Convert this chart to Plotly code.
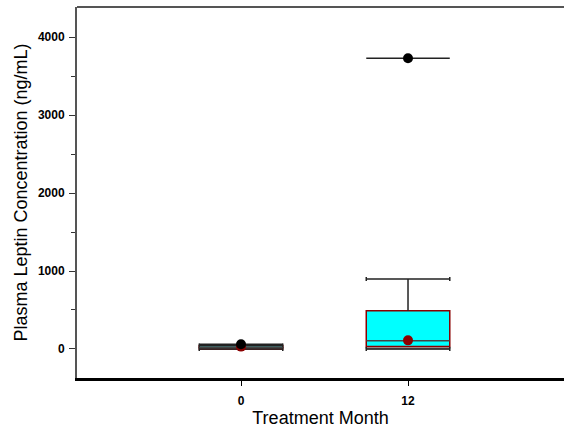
import plotly.graph_objects as go

# Data
months = ["0", "12"]
pos = [0, 1]
lower_fence = [0, 0]
q1 = [0, 30]
median = [20, 106]
q3 = [42, 491]
upper_fence = [45, 897]
mean_vals = [30, 110]
outlier_x = [0, 1]
outlier_y = [60, 3731]

half_w = 0.25
dark_red = "#8B0000"

fig = go.Figure()

# lower part of box (gray)
fig.add_trace(go.Bar(x=pos, base=lower_fence, y=[a - b for a, b in zip(q1, lower_fence)],
                     width=2 * half_w, marker=dict(color="#b4b4b4", line=dict(color="#555555", width=1)),
                     showlegend=False, hoverinfo="skip"))
# main box (cyan)
fig.add_trace(go.Bar(x=pos, base=q1, y=[a - b for a, b in zip(q3, q1)],
                     width=2 * half_w, marker=dict(color="#00FFFF", line=dict(color=dark_red, width=1.5)),
                     showlegend=False, hoverinfo="skip"))
# whiskers
for i in range(len(pos)):
    fig.add_trace(go.Scatter(x=[pos[i], pos[i]], y=[q3[i], upper_fence[i]], mode="lines",
                             line=dict(color="#222222", width=1.5), showlegend=False, hoverinfo="skip"))
# caps (upper and lower)
fig.add_trace(go.Scatter(x=pos + pos, y=upper_fence + lower_fence, mode="markers",
                         marker=dict(size=1, opacity=0),
                         error_x=dict(type="data", array=[half_w] * 4, color="#222222", thickness=1.5, width=2),
                         showlegend=False, hoverinfo="skip"))
# median lines
fig.add_trace(go.Scatter(x=pos, y=median, mode="markers", marker=dict(size=1, opacity=0),
                         error_x=dict(type="data", array=[half_w] * 2, color="#444444", thickness=1.5, width=0),
                         showlegend=False, hoverinfo="skip"))
# mean
fig.add_trace(go.Scatter(x=pos, y=mean_vals, mode="markers",
                         marker=dict(size=10, color=dark_red), showlegend=False))
# outliers with max line
fig.add_trace(go.Scatter(x=outlier_x, y=outlier_y, mode="markers",
                         marker=dict(size=10, color="black"),
                         error_x=dict(type="data", array=[half_w, half_w], color="#222222", thickness=1.5, width=0),
                         showlegend=False))

fig.update_layout(
    width=564, height=431,
    margin=dict(l=77, r=0, t=7, b=53),
    plot_bgcolor="white", paper_bgcolor="white",
    barmode="overlay",
    font=dict(family="Liberation Sans, Arial", color="black"),
    xaxis=dict(range=[-0.982, 1.934], tickvals=pos, ticktext=months,
               ticks="outside", ticklen=5, tickwidth=1, tickcolor="black",
               showline=True, linecolor="black", linewidth=3, showgrid=False, zeroline=False,
               tickfont=dict(size=12, weight="bold"), ticklabelstandoff=5,
               title=dict(text="Treatment Month", font=dict(size=18), standoff=4)),
    yaxis=dict(range=[-373, 4388], tickvals=[0, 1000, 2000, 3000, 4000],
               ticks="outside", ticklen=6, tickwidth=1, tickcolor="#333333",
               minor=dict(tickvals=[500, 1500, 2500, 3500], ticks="outside", ticklen=4, tickcolor="#333333"),
               showline=True, linecolor="#555555", linewidth=2, showgrid=False, zeroline=False,
               tickfont=dict(size=12, weight="bold"), ticklabelstandoff=2,
               title=dict(text="Plasma Leptin Concentration (ng/mL)", font=dict(size=18), standoff=6)),
    shapes=[dict(type="line", xref="paper", yref="paper", x0=0, x1=1, y0=1, y1=1,
                 line=dict(color="#555555", width=2))],
)

fig.write_html("out.html")
